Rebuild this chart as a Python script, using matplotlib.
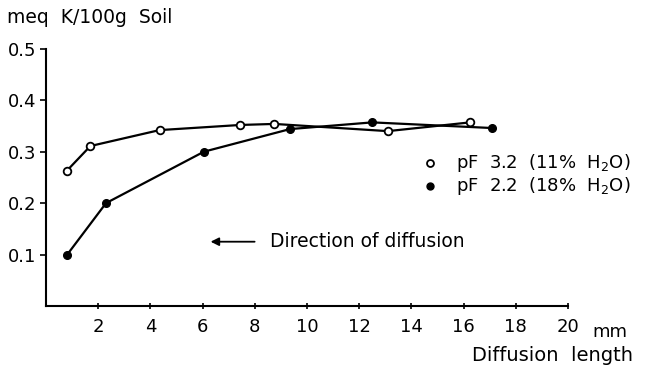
import matplotlib
matplotlib.use("Agg")
from matplotlib import pyplot as plt

plt.rcParams['font.family'] = ['DejaVu Sans']

# pF 3.2 (11% H2O) - open circles
x_open = [0.8, 1.7, 4.35, 7.45, 8.75, 13.1, 16.25]
y_open = [0.263, 0.311, 0.342, 0.352, 0.354, 0.340, 0.357]

# pF 2.2 (18% H2O) - filled circles
x_fill = [0.8, 2.3, 6.05, 9.35, 12.5, 17.1]
y_fill = [0.099, 0.200, 0.300, 0.344, 0.357, 0.346]

xticks = [2, 4, 6, 8, 10, 12, 14, 16, 18, 20]
yticks = [0.1, 0.2, 0.3, 0.4, 0.5]

fig = plt.figure(figsize=(6.45, 3.7), dpi=100)
ax = fig.add_axes([0.0713, 0.173, 0.8093, 0.695])

ax.plot(x_fill, y_fill, '-o', color='black', lw=1.6, ms=5.5, mfc='black', mec='black')
ax.plot(x_open, y_open, '-o', color='black', lw=1.6, ms=5.5, mfc='white', mec='black', mew=1.3)

ax.set_xlim(0, 20)
ax.set_ylim(0, 0.5)
ax.set_xticks(xticks)
ax.set_yticks(yticks)
ax.set_yticklabels(['0.1', '0.2', '0.3', '0.4', '0.5'])
ax.tick_params(axis='x', direction='inout', length=5, width=1.2, labelsize=13, pad=6)
ax.tick_params(axis='y', direction='out', length=4, width=1.2, labelsize=13, pad=3)
for s in ['top', 'right']:
    ax.spines[s].set_visible(False)
for s in ['left', 'bottom']:
    ax.spines[s].set_linewidth(1.5)

# labels
fig.text(0.011, 0.952, 'meq  K/100g  Soil', fontsize=13.5, ha='left', va='center')
fig.text(0.918, 0.103, 'mm', fontsize=13, ha='left', va='center')
fig.text(0.982, 0.038, 'Diffusion  length', fontsize=14, ha='right', va='center')

# legend
ax.plot([14.7], [0.279], 'o', color='black', ms=5, mfc='white', mew=1.3, clip_on=False)
ax.plot([14.7], [0.234], 'o', color='black', ms=5, clip_on=False)
ax.text(15.7, 0.279, 'pF  3.2  (11%  H$_2$O)', fontsize=13, va='center')
ax.text(15.7, 0.234, 'pF  2.2  (18%  H$_2$O)', fontsize=13, va='center')

# arrow
ax.annotate('', xy=(6.2, 0.125), xytext=(8.1, 0.125),
            arrowprops=dict(arrowstyle='-|>', color='black', lw=1.3, mutation_scale=12))
ax.text(8.6, 0.125, 'Direction of diffusion', fontsize=13.5, va='center')

fig.savefig('out.png', dpi=100)
